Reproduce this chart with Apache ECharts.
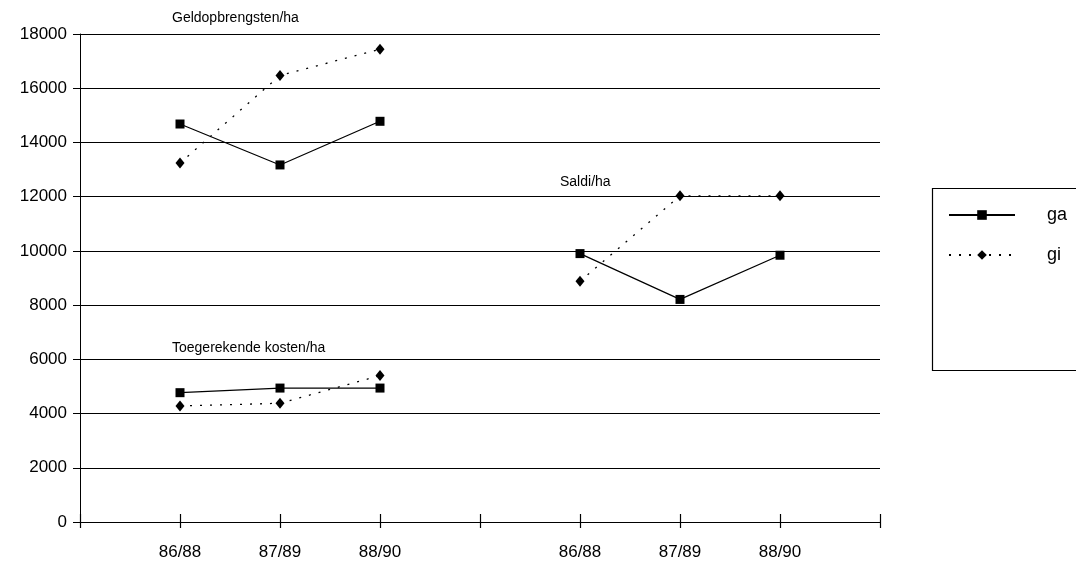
<!DOCTYPE html>
<html>
<head>
<meta charset="utf-8">
<script src="https://cdn.jsdelivr.net/npm/echarts@6/dist/echarts.min.js"></script>
<style>
  html, body { margin: 0; padding: 0; background: #fff; }
  #chart { width: 1076px; height: 565px; }
</style>
</head>
<body>
<div id="chart"></div>
<script>
// Category slots: two groups of three periods, separated by empty slots
const categories = ['', '86/88', '87/89', '88/90', '', '86/88', '87/89', '88/90', ''];
const yTicks = [0, 2000, 4000, 6000, 8000, 10000, 12000, 14000, 16000, 18000];

// Geldopbrengsten/ha (left group)
const geldGa = [14680, 13170, 14780];
const geldGi = [13240, 16470, 17440];
// Toegerekende kosten/ha (left group)
const kostenGa = [4770, 4940, 4940];
const kostenGi = [4280, 4380, 5400];
// Saldi/ha (right group)
const saldiGa = [9900, 8210, 9840];
const saldiGi = [8880, 12030, 12030];

const leftSlots = [1, 2, 3];
const rightSlots = [5, 6, 7];

function place(values, slots) {
  const out = categories.map(() => null);
  values.forEach((v, i) => { out[slots[i]] = v; });
  return out;
}

const FONT = 'Liberation Sans, Arial, Helvetica, sans-serif';

const gaStyle = {
  type: 'line', name: 'ga', symbol: 'rect', symbolSize: 9,
  lineStyle: { color: '#000', width: 1.2, type: 'solid' },
  itemStyle: { color: '#000' }, connectNulls: false, animation: false
};
const giStyle = {
  type: 'line', name: 'gi', symbol: 'diamond', symbolSize: [9, 11],
  lineStyle: { color: '#000', width: 1.3, type: [2, 8] },
  itemStyle: { color: '#000' }, connectNulls: false, animation: false
};

const chart = echarts.init(document.getElementById('chart'), null, { renderer: 'canvas' });
chart.setOption({
  backgroundColor: '#fff',
  animation: false,
  grid: { left: 80, right: 196, top: 34, bottom: 43 },
  xAxis: [
    {
      type: 'category', data: categories, boundaryGap: false, position: 'bottom',
      axisLine: { lineStyle: { color: '#000', width: 1.2 } },
      axisTick: { show: true, length: 6, inside: false, lineStyle: { color: '#000', width: 1.2 } },
      axisLabel: { color: '#000', fontFamily: FONT, fontSize: 17, margin: 22, interval: 0 },
      splitLine: { show: false }
    },
    {
      type: 'category', data: categories, boundaryGap: false, position: 'bottom',
      axisLine: { show: false },
      axisTick: { show: true, length: 8, inside: true, lineStyle: { color: '#000', width: 1.2 } },
      axisLabel: { show: false },
      splitLine: { show: false }
    }
  ],
  yAxis: {
    type: 'value', min: yTicks[0], max: yTicks[yTicks.length - 1], interval: 2000,
    axisLine: { show: true, lineStyle: { color: '#000', width: 1 } },
    axisTick: { show: true, length: 7, lineStyle: { color: '#000' } },
    axisLabel: { color: '#000', fontFamily: FONT, fontSize: 17, margin: 13,
      formatter: (v) => String(v) },
    splitLine: { show: true, lineStyle: { color: '#000', width: 1 } }
  },
  legend: {
    orient: 'vertical', left: 943, top: 200,
    itemWidth: 66, itemHeight: 12, itemGap: 20,
    data: ['ga', 'gi'],
    textStyle: { color: '#000', fontFamily: FONT, fontSize: 18, lineHeight: 20, padding: [0, 0, 0, 27] },
    selectedMode: false
  },
  graphic: [
    { type: 'rect', left: 930, top: 186, shape: { width: 160, height: 182 },
      style: { fill: 'none', stroke: '#000', lineWidth: 1.2 }, z: -1 },
    { type: 'text', left: 172, top: 11,
      style: { text: 'Geldopbrengsten/ha', fill: '#000', font: '14px ' + FONT } },
    { type: 'text', left: 560, top: 175,
      style: { text: 'Saldi/ha', fill: '#000', font: '14px ' + FONT } },
    { type: 'text', left: 172, top: 341,
      style: { text: 'Toegerekende kosten/ha', fill: '#000', font: '14px ' + FONT } }
  ],
  series: [
    Object.assign({}, gaStyle, { data: place(geldGa, leftSlots) }),
    Object.assign({}, giStyle, { data: place(geldGi, leftSlots) }),
    Object.assign({}, gaStyle, { data: place(kostenGa, leftSlots) }),
    Object.assign({}, giStyle, { data: place(kostenGi, leftSlots) }),
    Object.assign({}, gaStyle, { data: place(saldiGa, rightSlots) }),
    Object.assign({}, giStyle, { data: place(saldiGi, rightSlots) })
  ]
});
</script>
</body>
</html>
